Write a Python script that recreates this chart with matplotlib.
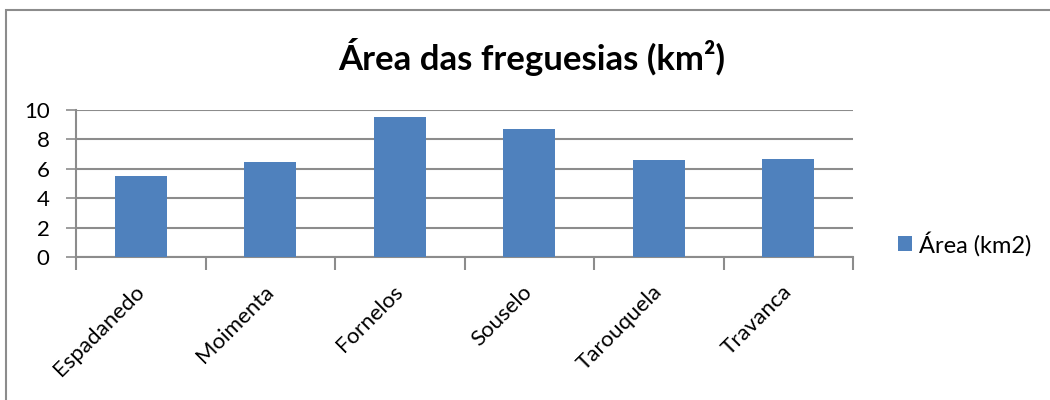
import matplotlib.pyplot as plt
from matplotlib.patches import Rectangle

plt.rcParams["font.family"] = ["Lato", "DejaVu Sans"]

freguesias = ["Espadanedo", "Moimenta", "Fornelos", "Souselo", "Tarouquela", "Travanca"]
area_km2 = [5.5, 6.45, 9.55, 8.7, 6.6, 6.65]
y_ticks = [0, 2, 4, 6, 8, 10]

bar_color = "#4f81bd"
grid_color = "#8c8c8c"

fig = plt.figure(figsize=(10.5, 4.0), dpi=100)
ax = fig.add_axes([76 / 1050, 1 - 257 / 400, (853 - 76) / 1050, (257 - 110) / 400])

positions = list(range(len(freguesias)))
ax.bar(positions, area_km2, width=0.4, color=bar_color, label="Área (km2)", zorder=3)

ax.set_xlim(-0.5, len(freguesias) - 0.5)
ax.set_ylim(0, 10)
ax.set_yticks(y_ticks)
ax.set_yticklabels([str(v) for v in y_ticks], fontsize=16)
ax.yaxis.grid(True, color=grid_color, linewidth=1.5, zorder=0)
ax.tick_params(axis="y", length=7, width=1.2, color=grid_color, pad=12)

# category ticks sit between bars, labels at bar centres
ax.set_xticks([p - 0.5 for p in positions] + [len(freguesias) - 0.5])
ax.set_xticklabels([])
ax.tick_params(axis="x", length=9, width=1.5, color=grid_color)
ax.set_xticks(positions, minor=True)
ax.set_xticklabels(freguesias, minor=True, rotation=45, ha="right", va="center",
                   rotation_mode="anchor", fontsize=16)
ax.tick_params(axis="x", which="minor", length=0, pad=23)

for side in ["top", "right"]:
    ax.spines[side].set_visible(False)
ax.spines["left"].set_color(grid_color)
ax.spines["left"].set_linewidth(1.5)
ax.spines["bottom"].set_color(grid_color)
ax.spines["bottom"].set_linewidth(1.5)

fig.text(532 / 1050, 1 - 57 / 400, "Área das freguesias (km²)", fontsize=25,
         fontweight="bold", ha="center", va="center")

ax.legend(loc="center left", bbox_to_anchor=(1.03, 0.09), frameon=False,
          fontsize=17, handlelength=0.6, handleheight=0.6, handletextpad=0.3)

# chart-area border: only its left and top edges fall inside the picture
fig.patches.append(Rectangle((6 / 1050, -0.1), 1.2, 1.1 - 10 / 400,
                             transform=fig.transFigure, fill=False,
                             edgecolor="#8c8c8c", linewidth=1.5))

fig.savefig("out.png", dpi=100)
